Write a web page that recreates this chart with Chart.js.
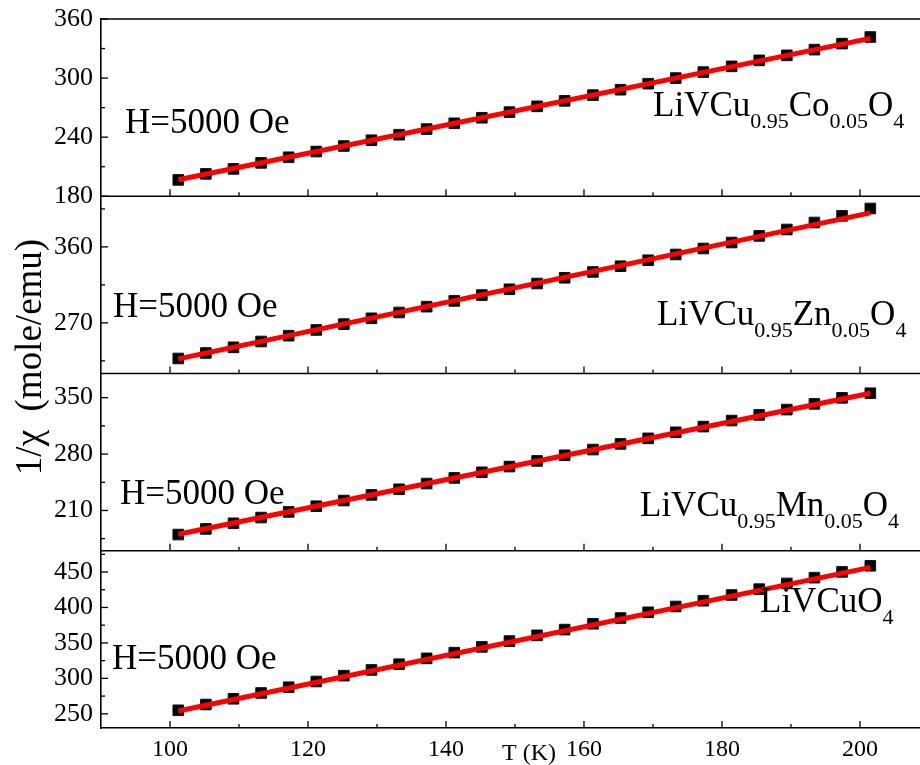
<!DOCTYPE html>
<html>
<head>
<meta charset="utf-8">
<script src="https://cdn.jsdelivr.net/npm/chart.js@4.4.1/dist/chart.umd.min.js"></script>
<style>
  html, body { margin: 0; padding: 0; background: #fff; }
</style>
</head>
<body>
<canvas id="myChart" width="920" height="765"></canvas>
<script>
// temperature (K)
const temps = [101.2, 105.2, 109.2, 113.2, 117.2, 121.2, 125.2, 129.2, 133.2, 137.2, 141.2, 145.2, 149.2,
               153.2, 157.2, 161.3, 165.3, 169.3, 173.3, 177.3, 181.4, 185.4, 189.4, 193.4, 197.4, 201.5];

// 1/chi (mole/emu) for each sample
const coValues = [196.6, 202.7, 207.8, 213.9, 219.6, 225.4, 231.0, 236.9, 242.5, 248.2, 254.1, 259.7, 265.4,
                  271.3, 276.9, 282.7, 288.2, 294.3, 300.0, 306.1, 311.9, 318.0, 323.1, 328.9, 335.0, 341.7];
const znValues = [227.8, 234.3, 241.0, 247.9, 254.8, 261.6, 268.5, 275.4, 282.3, 289.2, 296.0, 302.9, 309.8,
                  316.6, 323.4, 330.3, 337.1, 344.2, 351.0, 358.1, 365.2, 373.0, 380.6, 388.9, 396.8, 405.5];
const mnValues = [180.1, 187.1, 194.1, 201.2, 208.2, 215.3, 222.3, 229.3, 236.3, 243.4, 250.4, 257.4, 264.5,
                  271.5, 278.5, 285.6, 292.6, 299.5, 307.0, 314.1, 321.6, 328.6, 335.2, 342.3, 349.8, 355.5];
const cuValues = [255.0, 263.1, 271.2, 279.4, 287.5, 295.6, 303.8, 311.9, 320.0, 328.2, 336.3, 344.4, 352.6,
                  360.7, 368.8, 377.0, 385.1, 393.2, 401.4, 409.5, 417.6, 425.8, 433.9, 442.0, 450.2, 458.8];

// linear fits (end points)
const fitTemps = [101.2, 201.5];
const coFit = [196.8, 340.3];
const znFit = [227.3, 400.3];
const mnFit = [180.5, 355.5];
const cuFit = [254.0, 456.5];

// axes
const xRange = [90, 208.7];
const xMajor = [100, 120, 140, 160, 180, 200];
const xMinor = [110, 130, 150, 170, 190];

const coRange = [180, 360], coTicks = [180, 240, 300, 360], coMinor = [210, 270, 330];
const znRange = [210, 420], znTicks = [270, 360], znMinor = [225, 315, 405];
const mnRange = [160, 380], mnTicks = [210, 280, 350], mnMinor = [175, 245, 315];
const cuRange = [230, 480], cuTicks = [250, 300, 350, 400, 450], cuMinor = [275, 325, 375, 425, 475];

// labels
const fieldLabel = 'H=5000 Oe';
const coName = [['LiVCu'], ['0.95', 1], ['Co'], ['0.05', 1], ['O'], ['4', 1]];
const znName = [['LiVCu'], ['0.95', 1], ['Zn'], ['0.05', 1], ['O'], ['4', 1]];
const mnName = [['LiVCu'], ['0.95', 1], ['Mn'], ['0.05', 1], ['O'], ['4', 1]];
const cuName = [['LiVCuO'], ['4', 1]];
const yTitle = '1/\u03c7  (mole/emu)';
const xTitle = 'T (K)';

const FONT = "'Liberation Serif', 'Times New Roman', serif";
Chart.defaults.font.family = FONT;
Chart.defaults.color = '#000';

// top panel first
const panels = [
  { id: 'yCo', values: coValues, fit: coFit, range: coRange, ticks: coTicks, minor: coMinor,
    name: coName, namePos: [653, 97], fieldPos: [125, 114] },
  { id: 'yZn', values: znValues, fit: znFit, range: znRange, ticks: znTicks, minor: znMinor,
    name: znName, namePos: [657, 129], fieldPos: [113, 121] },
  { id: 'yMn', values: mnValues, fit: mnFit, range: mnRange, ticks: mnTicks, minor: mnMinor,
    name: mnName, namePos: [640, 142], fieldPos: [120, 130] },
  { id: 'yCu', values: cuValues, fit: cuFit, range: cuRange, ticks: cuTicks, minor: cuMinor,
    name: cuName, namePos: [760, 61], fieldPos: [112, 118] }
];

const noPadding = () => ({ left: 0, top: 0, right: 0, bottom: 0 });

function yAxis(p) {
  return {
    type: 'linear', position: 'left', stack: 'panels', stackWeight: 1,
    min: p.range[0], max: p.range[1],
    grid: { display: false, drawTicks: false },
    border: { display: true, color: '#000', width: 1.6 },
    ticks: { color: '#000', font: { size: 26 }, padding: 8, autoSkip: false },
    afterBuildTicks: s => { s.ticks = p.ticks.map(v => ({ value: v })); },
    afterFit: s => { s.width = 101; s.getPadding = noPadding; }
  };
}

const scales = {
  x: {
    type: 'linear', position: 'bottom', min: xRange[0], max: xRange[1],
    grid: { display: false, drawTicks: false },
    border: { display: true, color: '#000', width: 1.6 },
    ticks: { color: '#000', font: { size: 24 }, padding: 7, autoSkip: false },
    afterBuildTicks: s => { s.ticks = xMajor.map(v => ({ value: v })); },
    afterFit: s => { s.height = 37; s.getPadding = noPadding; }
  }
};
// stacked axes are placed bottom-up, so add the bottom panel first
panels.slice().reverse().forEach(p => { scales[p.id] = yAxis(p); });

const datasets = [];
panels.forEach(p => {
  datasets.push({
    data: fitTemps.map((t, i) => ({ x: t, y: p.fit[i] })),
    yAxisID: p.id, showLine: true, borderColor: '#ff0000', borderWidth: 5,
    pointRadius: 0, order: 0
  });
  datasets.push({
    data: temps.map((t, i) => ({ x: t, y: p.values[i] })),
    yAxisID: p.id, pointStyle: 'rect', pointRadius: 7.5,
    backgroundColor: '#000', borderColor: '#111', borderWidth: 1, order: 1
  });
});

function drawFormula(ctx, parts, x, y) {
  parts.forEach(([t, sub]) => {
    ctx.font = sub ? '22px ' + FONT : '35px ' + FONT;
    ctx.fillText(t, x, sub ? y + 12 : y);
    x += ctx.measureText(t).width;
  });
}

// frame, inward ticks and text labels
const decorations = {
  id: 'decorations',
  afterDraw(chart) {
    const ctx = chart.ctx, a = chart.chartArea, xs = chart.scales.x;
    const line = (x1, y1, x2, y2) => { ctx.beginPath(); ctx.moveTo(x1, y1); ctx.lineTo(x2, y2); ctx.stroke(); };
    ctx.save();
    ctx.strokeStyle = '#000';
    ctx.fillStyle = '#000';
    panels.forEach(p => {
      const ys = chart.scales[p.id];
      ctx.lineWidth = 1.6;
      line(a.left, ys.top, a.right, ys.top);
      ctx.lineWidth = 1.3;
      xMajor.forEach(v => { const px = xs.getPixelForValue(v); line(px, ys.bottom, px, ys.bottom - 7); });
      xMinor.forEach(v => { const px = xs.getPixelForValue(v); line(px, ys.bottom, px, ys.bottom - 4); });
      p.ticks.forEach(v => { const py = ys.getPixelForValue(v); line(a.left, py, a.left + 7, py); });
      p.minor.forEach(v => { const py = ys.getPixelForValue(v); line(a.left, py, a.left + 4, py); });

      ctx.textBaseline = 'alphabetic';
      ctx.textAlign = 'left';
      ctx.font = '35px ' + FONT;
      ctx.fillText(fieldLabel, p.fieldPos[0], ys.top + p.fieldPos[1]);
      drawFormula(ctx, p.name, p.namePos[0], ys.top + p.namePos[1]);
    });

    ctx.font = '24px ' + FONT;
    ctx.fillText(xTitle, 502, 760);

    ctx.translate(41, 357);
    ctx.rotate(-Math.PI / 2);
    ctx.textAlign = 'center';
    ctx.font = '37px ' + FONT;
    ctx.fillText(yTitle, 0, 0);
    ctx.restore();
  }
};

new Chart(document.getElementById('myChart'), {
  type: 'scatter',
  data: { datasets },
  options: {
    responsive: false,
    animation: false,
    devicePixelRatio: 1,
    layout: { autoPadding: false, padding: { top: 19, left: 0, right: 0, bottom: 0 } },
    plugins: { legend: { display: false }, tooltip: { enabled: false } },
    scales
  },
  plugins: [decorations]
});
</script>
</body>
</html>
